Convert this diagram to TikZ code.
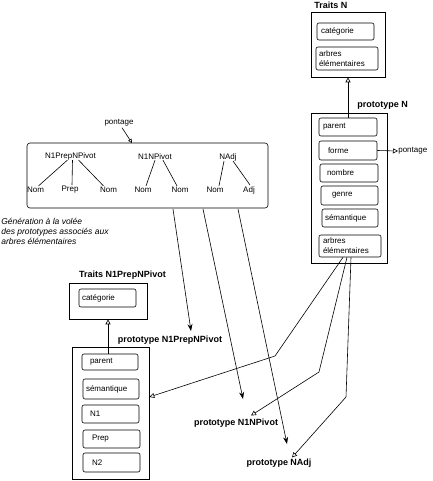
\documentclass[tikz,border=0pt]{standalone}
\usepackage{fontspec}
\setmainfont{Liberation Sans}
\usetikzlibrary{arrows.meta}
\begin{document}
\begin{tikzpicture}[x=1pt,y=-1pt, line width=0.6pt,
  every node/.style={font=\fontsize{8}{10}\selectfont, inner sep=0pt},
  obox/.style={draw, inner sep=0pt},
  ibox/.style={draw, rounded corners=2pt, inner xsep=3pt, inner ysep=0pt, align=left},
  lbl/.style={font=\fontsize{9}{10}\selectfont\bfseries},
  note/.style={font=\fontsize{8.5}{10}\selectfont\itshape, align=left},
  openarr/.style={-{Triangle[open,length=5pt,width=5pt]}},
  fillarr/.style={-{Stealth[length=7pt,width=5pt]}},
]
\useasboundingbox (0,0) rectangle (432,481);

% ---------- Traits N ----------
\node[lbl, anchor=west] (trNlbl) at (314,5.5) {Traits N};
\node[obox, minimum width=74pt, minimum height=65pt] (trN) at (348,44.5) {};
\node[ibox, text width=51pt, minimum height=17pt] (trNcat) at (345.5,31.5) {\hspace*{1pt}catégorie};
\node[ibox, text width=56pt, minimum height=23pt] (trNarb) at (347,58.5) {arbres\\élémentaires};

% ---------- prototype N ----------
\node[lbl, anchor=west] (pNlbl) at (357,105) {prototype N};
\node[obox, minimum width=76pt, minimum height=150pt] (pN) at (349,188) {};
\node[ibox, text width=52pt, minimum height=18pt] (pNpar) at (348,127) {\hspace*{1pt}parent};
\node[ibox, text width=52pt, minimum height=19pt] (pNfor) at (348,150.5) {\hspace*{6pt}forme};
\node[ibox, text width=52pt, minimum height=18pt] (pNnom) at (349,173) {\hspace*{4pt}nombre};
\node[ibox, text width=51pt, minimum height=19pt] (pNgen) at (349.5,195.5) {\hspace*{8pt}genre};
\node[ibox, text width=50pt, minimum height=18pt] (pNsem) at (350,218) {sémantique};
\node[ibox, text width=56pt, minimum height=22pt] (pNarb) at (350,246) {\hspace*{1pt}arbres\\\hspace*{1pt}élémentaires};
\draw[openarr] (pNpar.north) -- (pNpar.north |- trN.south);
\node[anchor=west] (pont2) at (398,151) {pontage};
\draw[openarr] (pNfor.east) -- (pont2.west);

% ---------- trees ----------
\node[draw, rounded corners=3pt, minimum width=241pt, minimum height=65pt] (tree) at (147.5,175.5) {};
\node (pont1) at (119,123) {pontage};
\coordinate (pontT) at (132,143);
\draw[-{Triangle[open,length=4pt,width=4pt]}] (pont1.south) ++(3pt,-1pt) -- (pontT);

\node (t1) at (70.5,156) {N1PrepNPivot};
\node (t1a) at (35.5,190) {Nom};
\node (t1b) at (70,190) {Prep};
\node (t1c) at (108.5,190) {Nom};
\draw ([xshift=-3pt]t1.south) -- ([xshift=3pt,yshift=1pt]t1a.north);
\draw ([xshift=2pt]t1.south) -- ([xshift=2pt,yshift=1pt]t1b.north);
\draw ([xshift=8pt]t1.south) -- ([xshift=-5pt,yshift=1pt]t1c.north);

\node (t2) at (155,157) {N1NPivot};
\node (t2a) at (143,190) {Nom};
\node (t2b) at (180,190) {Nom};
\draw ([xshift=0pt]t2.south) -- ([xshift=3pt,yshift=1pt]t2a.north);
\draw ([xshift=8pt]t2.south) -- ([xshift=-3pt,yshift=1pt]t2b.north);

\node (t3) at (228,157) {NAdj};
\node (t3a) at (215,190) {Nom};
\node (t3b) at (249,190) {Adj};
\draw ([xshift=-4pt]t3.south) -- ([xshift=4pt,yshift=1pt]t3a.north);
\draw ([xshift=5pt]t3.south) -- ([xshift=1pt,yshift=1pt]t3b.north);

\node[note, anchor=west] (gen) at (1,231) {Génération à la volée\\des prototypes associés aux\\arbres élémentaires};

% ---------- generation arrows ----------
\coordinate (g1s) at (173,209);
\coordinate (g1e) at (191,331);
\coordinate (g2s) at (203,209);
\coordinate (g2e) at (243,399);
\coordinate (g3s) at (238,209);
\coordinate (g3e) at (287,444);
\draw[fillarr] (g1s) -- (g1e);
\draw[fillarr] (g2s) -- (g2e);
\draw[fillarr] (g3s) -- (g3e);

% ---------- Traits N1PrepNPivot ----------
\node[lbl] (trPlbl) at (122.5,275) {Traits N1PrepNPivot};
\node[obox, minimum width=78pt, minimum height=36pt] (trP) at (108,301) {};
\node[ibox, text width=51pt, minimum height=18pt] (trPcat) at (107.5,298) {catégorie};

% ---------- prototype N1PrepNPivot ----------
\node[lbl] (pPlbl) at (170,340) {prototype N1PrepNPivot};
\node[obox, minimum width=77pt, minimum height=132pt] (pP) at (110.5,413) {};
\node[ibox, text width=50pt, minimum height=16pt] (pPpar) at (110,362) {\hspace*{5pt}parent};
\node[ibox, text width=50pt, minimum height=20pt] (pPsem) at (111,389) {sémantique};
\node[ibox, text width=51pt, minimum height=18pt] (pPn1) at (110.5,414) {\hspace*{5pt}N1};
\node[ibox, text width=51pt, minimum height=18pt] (pPprep) at (111.5,439) {\hspace*{6pt}Prep};
\node[ibox, text width=51pt, minimum height=19pt] (pPn2) at (111.5,462.5) {\hspace*{6pt}N2};
\draw[openarr] (pPpar.north -| trP.south) -- (trP.south);

% ---------- other prototypes ----------
\node[lbl] (pN1lbl) at (236,423) {prototype N1NPivot};
\node[lbl] (pAlbl) at (279,463) {prototype NAdj};

% ---------- links from arbres elementaires ----------
\coordinate (bA) at (275,356);
\coordinate (bB) at (319,372);
\coordinate (bC) at (346,397);
\draw[openarr] ([xshift=-7pt]pNarb.south) -- (bA) -- ([yshift=16pt]pP.east);
\draw[openarr] ([xshift=-3pt]pNarb.south) -- (bB) -- ([xshift=15pt,yshift=3pt]pN1lbl.north);
\draw[openarr] ([xshift=1pt]pNarb.south) -- (bC) -- ([xshift=13pt,yshift=1pt]pAlbl.north);

\end{tikzpicture}
\end{document}
